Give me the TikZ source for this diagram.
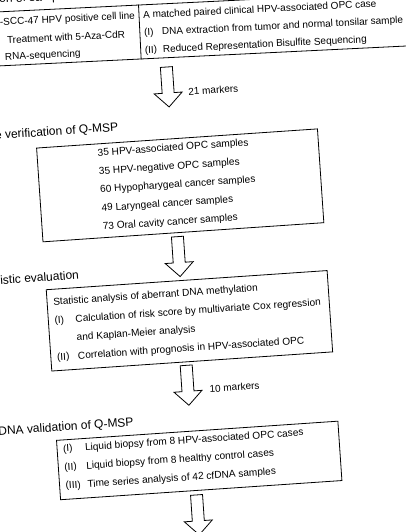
\documentclass[tikz,border=0pt]{standalone}
\usepackage{fontspec}
\setmainfont{Liberation Sans}
\newcommand\hollowarrow[1]{\draw[barrow] (#1) ++(-6,0) -- ++(0,26) -- ++(-8,0) -- ++(14,14) -- ++(14,-14) -- ++(-8,0) -- ++(0,-26) -- cycle;}
\begin{document}
\begin{tikzpicture}[x=1pt,y=-1pt,
  box/.style={draw,line width=0.8pt,inner sep=0pt},
  txt/.style={inner sep=0pt,anchor=west,align=left,font=\fontsize{10.1}{18.5}\selectfont},
  toptxt/.style={inner sep=0pt,anchor=west,align=left,font=\fontsize{10}{17.5}\selectfont},
  head/.style={inner sep=0pt,font=\fontsize{12}{14}\selectfont},
  barrow/.style={draw,line width=0.8pt,fill=white,line join=miter},
  lbl/.style={inner sep=0pt,anchor=west,font=\fontsize{10}{12}\selectfont}]
\useasboundingbox (0,0) rectangle (406,532);
\clip (0,0) rectangle (406,532);
\fill[white] (0,0) rectangle (406,532);

% ---- top part
\begin{scope}[rotate around={2.8:(140,35)},transform shape]
  \node[box,minimum width=470pt,minimum height=54pt] (b1) at (205,32) {};
  \coordinate (d1) at (140,0);
  \draw[line width=0.8pt] (b1.north -| d1) -- (b1.south -| d1);
  \node[head,anchor=base west] (h1) at (1,-4) {on of samples};
  \node[toptxt] (t1a) at (0.6,16) {-SCC-47 HPV positive cell line};
  \node[toptxt] (t1b) at (6.8,33.5) {Treatment with 5-Aza-CdR};
  \node[toptxt] (t1c) at (3.9,51) {RNA-sequencing};
  \node[toptxt] (t1r) at (144,33.5) {A matched paired clinical HPV-associated OPC case\\
    \makebox[18pt][l]{(I)}DNA extraction from tumor and normal tonsilar sample\\
    \makebox[18pt][l]{(II)}Reduced Representation Bisulfite Sequencing};
\end{scope}

% ---- main part
\begin{scope}[rotate around={3.9:(203,266)},transform shape]
  \coordinate (a1) at (180,65);
  \hollowarrow{a1}
  \node[lbl] (l1) at (200,91) {21 markers};

  \node[head,anchor=east] (h2) at (128,122.4) {e verification of Q-MSP};
  \node[box,minimum width=281.5pt,minimum height=94pt] (b2) at (185.75,184) {};
  \node[txt] (t2) at (105.5,183.5) {35 HPV-associated OPC samples\\
    35 HPV-negative OPC samples\\
    60 Hypopharygeal cancer samples\\
    49 Laryngeal cancer samples\\
    73 Oral cavity cancer samples};

  \coordinate (a2) at (179.5,235);
  \hollowarrow{a2}

  \node[head,anchor=east] (h3) at (78.7,266.3) {istic evaluation};
  \node[box,minimum width=281.5pt,minimum height=81.5pt] (b3) at (185.75,319.75) {};
  \node[txt] (t3) at (51,320) {Statistic analysis of aberrant DNA methylation\\
    \makebox[21pt][l]{(I)}Calculation of risk score by multivariate Cox regression\\
    \hspace*{21pt}and Kaplan-Meier analysis\\
    \makebox[21pt][l]{(II)}Correlation with prognosis in HPV-associated OPC};

  \coordinate (a3) at (179.5,364);
  \hollowarrow{a3}
  \node[lbl] (l2) at (201,389) {10 markers};

  \node[head,anchor=east] (h4) at (123.2,417.8) {DNA validation of Q-MSP};
  \node[box,minimum width=282pt,minimum height=59.5pt] (b4) at (186,459.75) {};
  \node[txt] (t4) at (50.8,458) {\makebox[22pt][l]{(I)}Liquid biopsy from 8 HPV-associated OPC cases\\
    \makebox[22pt][l]{(II)}Liquid biopsy from 8 healthy control cases\\
    \makebox[22pt][l]{(III)}Time series analysis of 42 cfDNA samples};

  \coordinate (a4) at (181,494);
  \hollowarrow{a4}
\end{scope}
\end{tikzpicture}
\end{document}
